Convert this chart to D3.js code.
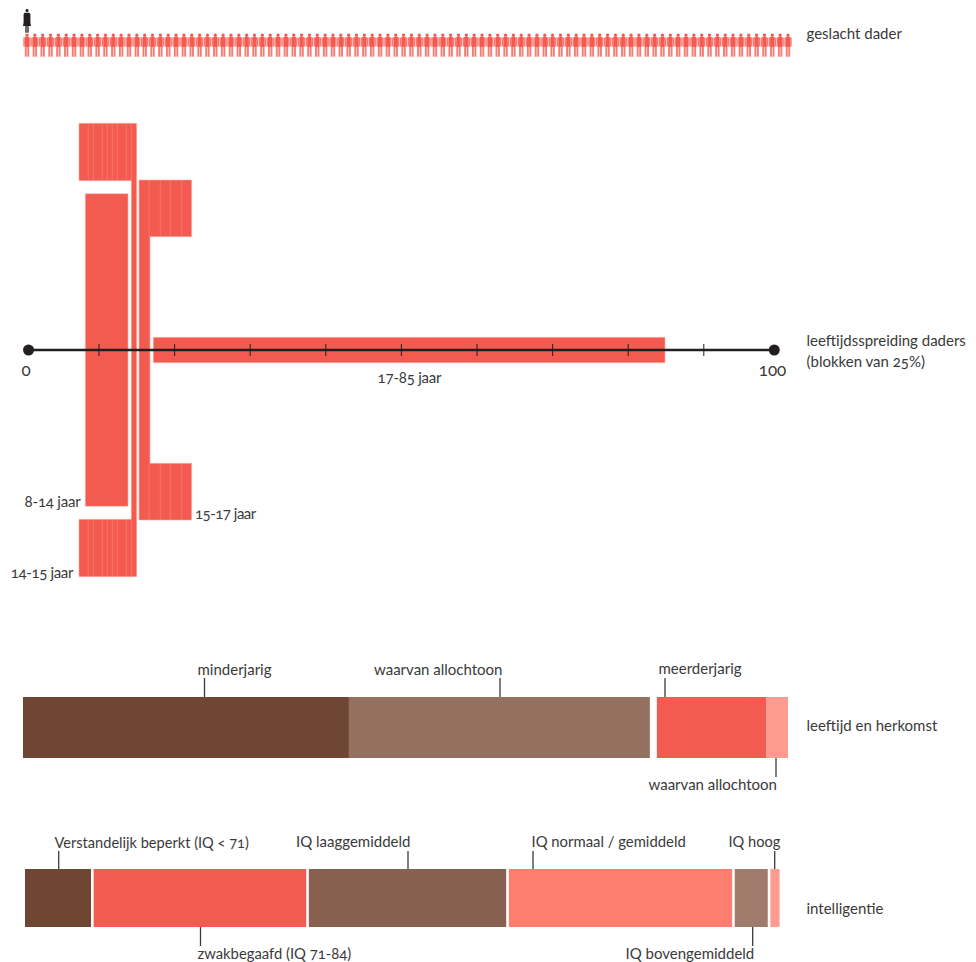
<!DOCTYPE html>
<html><head><meta charset="utf-8">
<script src="https://cdn.jsdelivr.net/npm/d3@7"></script>
<style>
html,body{margin:0;padding:0;background:#fff}
text{font-family:"Lato","Noto Sans",sans-serif;font-size:15px;fill:#3a3a3a;font-feature-settings:"onum" 1,"lnum" 0;font-variant-numeric:oldstyle-nums}
</style></head><body>
<svg id="c" width="976" height="962"></svg>
<script>
// ---------- data ----------
const maleCount = 98, femaleCount = 1;
const axisTicks = [10,20,30,40,50,60,70,80,90];
const axisEnds = [0.68, 99.32];
const axisEndLabels = ["0","100"];

// age bands: horizontal extent in years, vertical extent in density units
const solidBands = [
  {label:"8-14 jaar", a0:8.19, a1:13.84, d:2.084},
  {label:"17-85 jaar", a0:17.18, a1:84.87, d:0.169}
];
const flangeBandA = {a0:7.35, a1:14.99, stem0:14.27, inner:2.257, outer:3.023};
const flangeBandB = {a0:15.29, a1:22.26, stem1:16.75, inner:1.511, outer:2.268};
const seamsA = [8.58,9.25,10.44,11.10,11.76,12.42,13.61,14.27];
const seamsB = [16.64,18.11,19.43,20.94];

const ageCats = ["minderjarig","waarvan allochtoon","meerderjarig","waarvan allochtoon"];
const ageVals = [43.0,39.7,14.4,2.9];
const iqCats = ["Verstandelijk beperkt (IQ < 71)","zwakbegaafd (IQ 71-84)","IQ laaggemiddeld","IQ normaal / gemiddeld","IQ bovengemiddeld","IQ hoog"];
const iqVals = [8.9,28.65,26.6,30.1,4.45,1.25];

// ---------- page layout ----------
const svg = d3.select("#c");
const RED="#f45b50", PALE="#ffb3ab", INK="#231f20", LINE="#3a3a3a";
const x = d3.scaleLinear().domain([0,100]).range([23.4,779.4]);
const yD = d3.scaleLinear().domain([-4,4]).range([650,50]);
const text=(s,px,py,anchor="start",size,spacing)=>{
  const t=svg.append("text").attr("x",px).attr("y",py).attr("text-anchor",anchor).text(s);
  if(size) t.style("font-size",size+"px");
  if(spacing) t.style("letter-spacing",spacing+"px");
  return t;
};

// ---------- pictogram row ----------
const iconX = d3.scaleLinear().domain([0,maleCount-1]).range([27,788]);
const manCore = "M-1.7 2.2a1.7 1.7 0 1 1 3.4 0a1.7 1.7 0 1 1-3.4 0Z M-2.2 4H2.2V14H-2.2Z";
const manLimbs = "M-3.7 4.4H-2.2V13.6H-3.7Z M2.2 4.4H3.7V13.6H2.2Z M-2.2 14H-0.3V23.7H-2.2Z M0.3 14H2.2V23.7H0.3Z";
const womanBody = "M-1.6 2a1.6 1.6 0 1 1 3.2 0a1.6 1.6 0 1 1-3.2 0Z M-2.4 4.2H2.4L3.4 5.4V14L4 17.5H-4L-3.4 14V5.4Z";
const womanLegs = "M-2 17.5H2V24.2H-2Z";
const men = svg.append("g").selectAll("g").data(d3.range(maleCount)).join("g")
  .attr("transform",i=>`translate(${iconX(i)},33)`);
men.append("path").attr("d",manLimbs).attr("fill",RED).attr("fill-opacity",.8);
men.append("path").attr("d",manCore).attr("fill",RED);
const women = svg.append("g").selectAll("g").data(d3.range(femaleCount)).join("g")
  .attr("transform",i=>`translate(${iconX(i)},8.5)`);
women.append("path").attr("d",womanBody).attr("fill",INK);
women.append("path").attr("d",womanLegs).attr("fill","#6b6b6b");
text("geslacht dader",806.5,39);

// ---------- age blocks ----------
const g = svg.append("g");
const outline=pts=>{
  const p=d3.path();
  pts.forEach(([a,d],i)=> i? p.lineTo(x(a),yD(d)) : p.moveTo(x(a),yD(d)));
  p.closePath();
  g.append("path").attr("d",p.toString()).attr("fill",RED).attr("stroke",PALE).attr("stroke-width",.6);
};
const seam=(a,d0,d1)=>g.append("line").attr("x1",x(a)).attr("x2",x(a)).attr("y1",yD(d0)).attr("y2",yD(d1))
  .attr("stroke",PALE).attr("stroke-width",.5).attr("stroke-opacity",.6);

solidBands.forEach(b=>outline([[b.a0,b.d],[b.a1,b.d],[b.a1,-b.d],[b.a0,-b.d]]));
const A=flangeBandA, B=flangeBandB;
outline([[A.a0,A.outer],[A.a1,A.outer],[A.a1,-A.outer],[A.a0,-A.outer],[A.a0,-A.inner],[A.stem0,-A.inner],[A.stem0,A.inner],[A.a0,A.inner]]);
outline([[B.a0,B.outer],[B.a1,B.outer],[B.a1,B.inner],[B.stem1,B.inner],[B.stem1,-B.inner],[B.a1,-B.inner],[B.a1,-B.outer],[B.a0,-B.outer]]);
seamsA.forEach(a=>{seam(a,A.inner,A.outer);seam(a,-A.outer,-A.inner);});
seamsB.forEach(a=>{seam(a,B.inner,B.outer);seam(a,-B.outer,-B.inner);});

// ---------- axis ----------
const axisY = yD(0);
svg.append("line").attr("x1",x(axisEnds[0])).attr("x2",x(axisEnds[1])).attr("y1",axisY).attr("y2",axisY)
  .attr("stroke",INK).attr("stroke-width",2.4);
svg.append("g").selectAll("line").data(axisTicks).join("line")
  .attr("x1",d=>x(d)).attr("x2",d=>x(d)).attr("y1",axisY-6).attr("y2",axisY+6)
  .attr("stroke",INK).attr("stroke-width",1);
svg.append("g").selectAll("circle").data(axisEnds).join("circle")
  .attr("cx",d=>x(d)).attr("cy",axisY).attr("r",5.5).attr("fill",INK);
text(axisEndLabels[0],26,376,"middle",17);
text(axisEndLabels[1],772.5,376,"middle",17);
text("17-85 jaar",409.5,383,"middle",15,-0.2);
text("8-14 jaar",80.5,507,"end",15,-0.2);
text("15-17 jaar",195,519,"start",15,-0.5);
text("14-15 jaar",73,578,"end",15,-0.35);
text("leeftijdsspreiding daders",806.5,346);
text("(blokken van 25%)",806.5,367);

// ---------- stacked bars ----------
function stacked(vals,colors,x0,totalPx,gaps,y0,y1){
  const s=d3.scaleLinear().domain([0,100]).range([0,totalPx]);
  let cum=0,gap=0; const out=[];
  vals.forEach((v,i)=>{gap+=gaps[i]; out.push({x0:x0+s(cum)+gap,x1:x0+s(cum+v)+gap,c:colors[i]}); cum+=v;});
  svg.append("g").selectAll("rect").data(out).join("rect")
    .attr("x",d=>d.x0).attr("width",d=>d.x1-d.x0).attr("y",y0).attr("height",y1-y0).attr("fill",d=>d.c);
  return out;
}
stacked(ageVals,["#6f4633","#93705f",RED,"#ff9b90"],23,758,[0,0,7,0],697,758);
stacked(iqVals,["#6f4633",RED,"#87604f","#fd7e6e","#9f7b6b","#ff9b90"],25,742,[0,2.6,2.6,2.6,2.6,2.6],869,927);

const leader=(px,y0,y1)=>svg.append("line").attr("x1",px).attr("x2",px).attr("y1",y0).attr("y2",y1).attr("stroke",LINE).attr("stroke-width",1.3);
// age labels
text(ageCats[0],197.5,675); leader(204.5,678,697);
text(ageCats[1],374,675);   leader(500,678,697);
text(ageCats[2],658.5,674); leader(665,678,697);
text(ageCats[3],648.5,790); leader(776,758,777);
text("leeftijd en herkomst",806.5,731);
// iq labels
text(iqCats[0],54.5,848,"start",14.6); leader(58.7,851,869);
text(iqCats[1],197.5,959,"start",14.8); leader(200.5,927,946);
text(iqCats[2],296,847);  leader(408,851,869);
text(iqCats[3],531.5,847,"start",14.85); leader(533,851,869);
text(iqCats[4],625.5,959); leader(752.7,927,946);
text(iqCats[5],728.5,847,"start",14.6); leader(774.7,851,869);
text("intelligentie",806.5,914);
</script>
</body></html>
